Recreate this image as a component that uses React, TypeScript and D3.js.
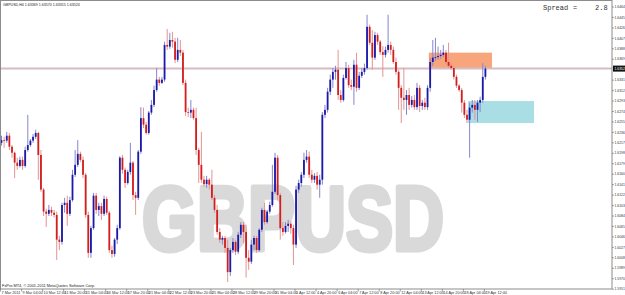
import React from "react";
import * as d3 from "d3";

// ---- data (GBPUSD, H4) ----
const open = [
  1.6217, 1.6222, 1.6221, 1.6230, 1.6210, 1.6199, 1.6181, 1.6175, 1.6186, 1.6175,
  1.6204, 1.6213, 1.6221, 1.6228, 1.6235, 1.6195, 1.6132, 1.6092, 1.6088, 1.6095,
  1.6090, 1.6086, 1.6041, 1.6037, 1.6104, 1.6108, 1.6088, 1.6113, 1.6159, 1.6177,
  1.6197, 1.6186, 1.6159, 1.6086, 1.6017, 1.6062, 1.6121, 1.6095, 1.6102, 1.6088,
  1.6115, 1.6090, 1.6022, 1.6015, 1.6041, 1.6062, 1.6190, 1.6168, 1.6144, 1.6164,
  1.6181, 1.6122, 1.6117, 1.6201, 1.6262, 1.6250, 1.6235, 1.6272, 1.6286, 1.6313,
  1.6332, 1.6326, 1.6332, 1.6395, 1.6392, 1.6404, 1.6401, 1.6368, 1.6386, 1.6381,
  1.6326, 1.6273, 1.6272, 1.6277, 1.6262, 1.6204, 1.6177, 1.6150, 1.6142, 1.6150,
  1.6141, 1.6117, 1.6095, 1.6055, 1.6041, 1.6044, 1.6026, 1.5982, 1.6022, 1.6037,
  1.6019, 1.6050, 1.6068, 1.6055, 1.6008, 1.6001, 1.6032, 1.6044, 1.6022, 1.6059,
  1.6095, 1.6073, 1.6092, 1.6104, 1.6128, 1.6190, 1.6122, 1.6062, 1.6055, 1.6066,
  1.6070, 1.6062, 1.6032, 1.6132, 1.6144, 1.6159, 1.6186, 1.6192, 1.6159, 1.6150,
  1.6157, 1.6141, 1.6150, 1.6268, 1.6277, 1.6310, 1.6332, 1.6346, 1.6350, 1.6304,
  1.6295, 1.6335, 1.6353, 1.6322, 1.6319, 1.6359, 1.6317, 1.6339, 1.6346, 1.6353,
  1.6428, 1.6399, 1.6372, 1.6413, 1.6401, 1.6382, 1.6377, 1.6386, 1.6395, 1.6386,
  1.6364, 1.6346, 1.6317, 1.6299, 1.6295, 1.6304, 1.6286, 1.6295, 1.6282, 1.6317,
  1.6284, 1.6290, 1.6282, 1.6317, 1.6364, 1.6372, 1.6373, 1.6375, 1.6377, 1.6381,
  1.6364, 1.6357, 1.6353, 1.6337, 1.6321, 1.6313, 1.6290, 1.6268, 1.6259, 1.6281,
  1.6286, 1.6277, 1.6290, 1.6295, 1.6337,
];
const high = [
  1.6230, 1.6228, 1.6237, 1.6235, 1.6213, 1.6201, 1.6190, 1.6192, 1.6192, 1.6210,
  1.6268, 1.6224, 1.6233, 1.6241, 1.6237, 1.6204, 1.6135, 1.6097, 1.6104, 1.6101,
  1.6095, 1.6092, 1.6048, 1.6108, 1.6117, 1.6121, 1.6119, 1.6168, 1.6204, 1.6222,
  1.6201, 1.6192, 1.6162, 1.6092, 1.6066, 1.6126, 1.6126, 1.6108, 1.6108, 1.6121,
  1.6119, 1.6093, 1.6030, 1.6044, 1.6068, 1.6193, 1.6195, 1.6172, 1.6168, 1.6217,
  1.6184, 1.6128, 1.6204, 1.6282, 1.6281, 1.6255, 1.6275, 1.6295, 1.6321, 1.6353,
  1.6337, 1.6337, 1.6401, 1.6424, 1.6417, 1.6419, 1.6408, 1.6408, 1.6404, 1.6386,
  1.6332, 1.6281, 1.6295, 1.6281, 1.6281, 1.6208, 1.6237, 1.6157, 1.6157, 1.6153,
  1.6168, 1.6122, 1.6104, 1.6062, 1.6048, 1.6048, 1.6041, 1.6026, 1.6044, 1.6041,
  1.6055, 1.6073, 1.6073, 1.6068, 1.6022, 1.6041, 1.6048, 1.6048, 1.6062, 1.6099,
  1.6108, 1.6095, 1.6110, 1.6177, 1.6199, 1.6195, 1.6126, 1.6073, 1.6073, 1.6077,
  1.6075, 1.6068, 1.6139, 1.6150, 1.6164, 1.6199, 1.6204, 1.6201, 1.6168, 1.6162,
  1.6164, 1.6159, 1.6273, 1.6286, 1.6317, 1.6341, 1.6353, 1.6357, 1.6386, 1.6313,
  1.6341, 1.6364, 1.6359, 1.6332, 1.6368, 1.6381, 1.6346, 1.6353, 1.6361, 1.6450,
  1.6432, 1.6422, 1.6419, 1.6417, 1.6404, 1.6393, 1.6392, 1.6450, 1.6401, 1.6392,
  1.6372, 1.6350, 1.6322, 1.6353, 1.6313, 1.6317, 1.6302, 1.6304, 1.6326, 1.6322,
  1.6295, 1.6299, 1.6322, 1.6372, 1.6404, 1.6408, 1.6392, 1.6386, 1.6395, 1.6386,
  1.6399, 1.6361, 1.6357, 1.6341, 1.6324, 1.6317, 1.6295, 1.6277, 1.6290, 1.6295,
  1.6295, 1.6295, 1.6301, 1.6362, 1.6357,
];
const low = [
  1.6212, 1.6208, 1.6217, 1.6204, 1.6190, 1.6153, 1.6168, 1.6172, 1.6168, 1.6172,
  1.6201, 1.6210, 1.6217, 1.6224, 1.6150, 1.6128, 1.6084, 1.6064, 1.6084, 1.6084,
  1.6081, 1.6004, 1.6022, 1.6032, 1.6090, 1.6066, 1.6084, 1.6110, 1.6155, 1.6173,
  1.6182, 1.6153, 1.6081, 1.6008, 1.6008, 1.6059, 1.6088, 1.6084, 1.6077, 1.6084,
  1.6086, 1.6017, 1.6008, 1.6010, 1.6033, 1.6059, 1.6161, 1.6135, 1.6141, 1.6159,
  1.6113, 1.6086, 1.6113, 1.6197, 1.6244, 1.6232, 1.6232, 1.6268, 1.6282, 1.6310,
  1.6321, 1.6324, 1.6328, 1.6386, 1.6388, 1.6390, 1.6362, 1.6364, 1.6375, 1.6322,
  1.6266, 1.6264, 1.6262, 1.6259, 1.6195, 1.6144, 1.6144, 1.6137, 1.6135, 1.6132,
  1.6113, 1.6090, 1.6050, 1.6035, 1.6032, 1.6017, 1.5964, 1.5975, 1.6017, 1.6013,
  1.6015, 1.6044, 1.6035, 1.5972, 1.5986, 1.5997, 1.6022, 1.6017, 1.6019, 1.6055,
  1.6068, 1.6070, 1.6088, 1.6101, 1.6124, 1.6113, 1.6041, 1.6048, 1.6052, 1.6055,
  1.6052, 1.5995, 1.6026, 1.6126, 1.6137, 1.6153, 1.6181, 1.6153, 1.6144, 1.6144,
  1.6132, 1.6117, 1.6141, 1.6262, 1.6272, 1.6304, 1.6317, 1.6332, 1.6295, 1.6290,
  1.6292, 1.6332, 1.6317, 1.6313, 1.6286, 1.6310, 1.6313, 1.6335, 1.6341, 1.6350,
  1.6395, 1.6350, 1.6368, 1.6395, 1.6377, 1.6337, 1.6372, 1.6381, 1.6377, 1.6361,
  1.6341, 1.6277, 1.6253, 1.6277, 1.6268, 1.6277, 1.6281, 1.6277, 1.6277, 1.6273,
  1.6277, 1.6277, 1.6277, 1.6310, 1.6357, 1.6366, 1.6368, 1.6370, 1.6373, 1.6359,
  1.6353, 1.6350, 1.6332, 1.6317, 1.6310, 1.6272, 1.6262, 1.6253, 1.6190, 1.6272,
  1.6259, 1.6255, 1.6273, 1.6290, 1.6332,
];
const close = [
  1.6222, 1.6221, 1.6230, 1.6210, 1.6199, 1.6181, 1.6175, 1.6186, 1.6175, 1.6204,
  1.6213, 1.6221, 1.6228, 1.6235, 1.6195, 1.6132, 1.6092, 1.6088, 1.6095, 1.6090,
  1.6086, 1.6041, 1.6037, 1.6104, 1.6108, 1.6088, 1.6113, 1.6159, 1.6177, 1.6197,
  1.6186, 1.6159, 1.6086, 1.6017, 1.6062, 1.6121, 1.6095, 1.6102, 1.6088, 1.6115,
  1.6090, 1.6022, 1.6015, 1.6041, 1.6062, 1.6190, 1.6168, 1.6144, 1.6164, 1.6181,
  1.6122, 1.6117, 1.6201, 1.6262, 1.6250, 1.6235, 1.6272, 1.6286, 1.6313, 1.6332,
  1.6326, 1.6332, 1.6395, 1.6392, 1.6404, 1.6401, 1.6368, 1.6386, 1.6381, 1.6326,
  1.6273, 1.6272, 1.6277, 1.6262, 1.6204, 1.6177, 1.6150, 1.6142, 1.6150, 1.6141,
  1.6117, 1.6095, 1.6055, 1.6041, 1.6044, 1.6026, 1.5982, 1.6022, 1.6037, 1.6019,
  1.6050, 1.6068, 1.6055, 1.6008, 1.6001, 1.6032, 1.6044, 1.6022, 1.6059, 1.6095,
  1.6073, 1.6092, 1.6104, 1.6128, 1.6190, 1.6122, 1.6062, 1.6055, 1.6066, 1.6070,
  1.6062, 1.6032, 1.6132, 1.6144, 1.6159, 1.6186, 1.6192, 1.6159, 1.6150, 1.6157,
  1.6141, 1.6150, 1.6268, 1.6277, 1.6310, 1.6332, 1.6346, 1.6350, 1.6304, 1.6295,
  1.6335, 1.6353, 1.6322, 1.6319, 1.6359, 1.6317, 1.6339, 1.6346, 1.6353, 1.6428,
  1.6399, 1.6372, 1.6413, 1.6401, 1.6382, 1.6377, 1.6386, 1.6395, 1.6386, 1.6364,
  1.6346, 1.6317, 1.6299, 1.6295, 1.6304, 1.6286, 1.6295, 1.6282, 1.6317, 1.6284,
  1.6290, 1.6282, 1.6317, 1.6364, 1.6372, 1.6373, 1.6375, 1.6377, 1.6381, 1.6364,
  1.6357, 1.6353, 1.6337, 1.6321, 1.6313, 1.6290, 1.6268, 1.6259, 1.6281, 1.6286,
  1.6277, 1.6290, 1.6295, 1.6337, 1.6352,
];

const priceTicks = [
  1.6464, 1.6445, 1.6426, 1.6407, 1.6388, 1.6369, 1.6350, 1.6331, 1.6312, 1.6293,
  1.6274, 1.6255, 1.6236, 1.6217, 1.6198, 1.6179, 1.6160, 1.6141, 1.6122, 1.6103,
  1.6084, 1.6065, 1.6046, 1.6027, 1.6008, 1.5989, 1.5970, 1.5951,
];
const timeLabels = [
  "7 Mar 2011", "9 Mar 04:00", "10 Mar 12:00", "11 Mar 20:00", "15 Mar 04:00",
  "16 Mar 12:00", "17 Mar 20:00", "21 Mar 04:00", "22 Mar 12:00", "23 Mar 20:00",
  "25 Mar 04:00", "28 Mar 12:00", "29 Mar 20:00", "31 Mar 04:00", "1 Apr 12:00",
  "4 Apr 20:00", "6 Apr 04:00", "7 Apr 12:00", "8 Apr 20:00", "12 Apr 04:00",
  "13 Apr 12:00", "14 Apr 20:00", "18 Apr 04:00", "19 Apr 12:00",
];
const timeLabelBars = [
  0, 8, 16, 24, 32, 40, 48, 56, 64, 72, 80, 88, 96, 104, 112, 120,
  128, 136, 144, 152, 160, 168, 176, 184,
];
const currentPrice = 1.6352;
const spreadValue = "2.8";
const symbolInfo = "GBPUSD,H4  1.63369 1.63570 1.63315 1.63524";
const copyright = "FxPro MT4, \u00a9 2001-2011 MetaQuotes Software Corp.";
// zones: start/end bar index, low/high price
const zoneStartBar = [162.5, 177.4];
const zoneEndBar = [186.5, 202.5];
const zoneLow = [1.6353, 1.6253];
const zoneHigh = [1.6381, 1.6293];
const zoneColor = ["#f9a57c", "#a9dee5"];

export default function App() {
  const W = 625;
  const H = 295;
  const plotR = 612;
  const plotB = 289;
  const x = d3.scaleLinear().domain([0, close.length - 1]).range([1.5, 485.4]);
  const y = d3.scaleLinear().domain([1.5951, 1.6464]).range([289.15, 7]);
  const bw = 1.8;
  const yCur = y(currentPrice);
  const small = "'Liberation Sans', Arial, sans-serif";

  return (
    <svg
      width={W}
      height={H}
      viewBox={`0 0 ${W} ${H}`}
      style={{ position: "absolute", left: 0, top: 0, background: "#fff" }}
    >
      <defs>
        <clipPath id="plot">
          <rect x={0} y={0} width={plotR} height={plotB} />
        </clipPath>
      </defs>
      <rect x={0} y={0} width={W} height={H} fill="#fff" />

      {/* watermark */}
      <text
        x={142}
        y={250}
        fontFamily="'Liberation Sans', Arial, sans-serif"
        fontWeight="bold"
        fontSize={90}
        fill="#d9d9d9"
        stroke="#d9d9d9"
        strokeWidth={5}
        strokeLinejoin="round"
        textLength={302}
        lengthAdjust="spacingAndGlyphs"
      >
        GBPUSD
      </text>

      <g clipPath="url(#plot)">
        {zoneStartBar.map((s, i) => (
          <rect
            key={"z" + i}
            x={x(s)}
            y={y(zoneHigh[i])}
            width={x(zoneEndBar[i]) - x(s)}
            height={y(zoneLow[i]) - y(zoneHigh[i])}
            fill={zoneColor[i]}
          />
        ))}
        <line x1={0} x2={plotR} y1={yCur} y2={yCur} stroke="#d6bcc3" strokeWidth={2} />

        {close.map((c, i) => {
          const o = open[i];
          const up = c >= o;
          const cx = x(i);
          const top = y(Math.max(o, c));
          const bot = y(Math.min(o, c));
          return (
            <g key={i}>
              <line
                x1={cx}
                x2={cx}
                y1={y(high[i])}
                y2={y(low[i])}
                stroke={up ? "#8585cf" : "#e59393"}
                strokeWidth={1}
              />
              <rect
                x={cx - bw / 2}
                y={top}
                width={bw}
                height={Math.max(0.8, bot - top)}
                fill={up ? "#1a1aa8" : "#d21e1e"}
              />
            </g>
          );
        })}
      </g>

      {/* frame */}
      <rect x={0.5} y={0.5} width={plotR - 0.5} height={plotB - 0.5} fill="none" stroke="#8c8c8c" strokeWidth={1} />

      {/* price axis */}
      {priceTicks.map((p, i) => {
        const yy = y(p);
        if (Math.abs(yy - yCur) < 5) return null;
        return (
          <g key={"pt" + i}>
            <line x1={plotR} x2={plotR + 2} y1={yy} y2={yy} stroke="#666" strokeWidth={0.6} />
            <text x={plotR + 2.5} y={yy} dy="0.35em" fontFamily={small} fontSize={3.4} fill="#333">
              {p.toFixed(4)}
            </text>
          </g>
        );
      })}
      <rect x={plotR + 1} y={yCur - 3} width={W - plotR - 1} height={6} fill="#111" />
      <text x={plotR + 2.5} y={yCur} dy="0.35em" fontFamily={small} fontSize={3.4} fill="#fff">
        {currentPrice.toFixed(4)}
      </text>

      {/* time axis */}
      {timeLabels.map((t, i) => {
        const xx = x(timeLabelBars[i]) - 1;
        return (
          <g key={"tl" + i}>
            <line x1={xx} x2={xx} y1={plotB} y2={plotB + 2.5} stroke="#666" strokeWidth={0.6} />
            <text x={xx + 1} y={293.6} fontFamily={small} fontSize={3.8} fill="#333">
              {t}
            </text>
          </g>
        );
      })}

      {/* info texts */}
      <text x={3} y={6} fontFamily={small} fontSize={3.6} fill="#222">
        {symbolInfo}
      </text>
      <text x={2} y={287} fontFamily={small} fontSize={3.9} fill="#222">
        {copyright}
      </text>
      <g fontFamily="'Liberation Mono', 'Courier New', monospace" fontSize={7} fill="#333">
        <text x={543} y={10}>Spread</text>
        <text x={573} y={10}>=</text>
        <text x={595} y={10}>{spreadValue}</text>
      </g>
    </svg>
  );
}
